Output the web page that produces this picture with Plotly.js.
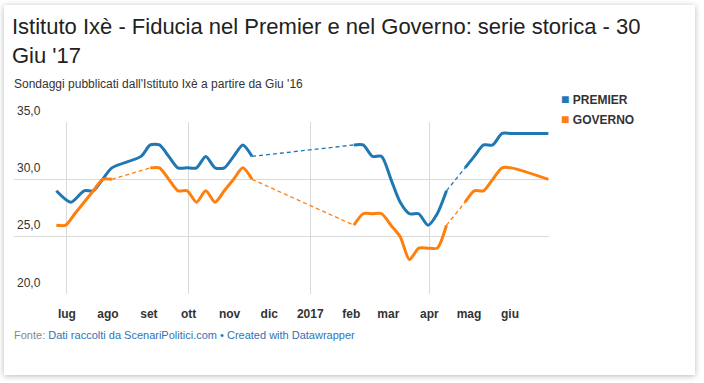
<!DOCTYPE html>
<html>
<head>
<meta charset="utf-8">
<script src="https://cdn.plot.ly/plotly-3.0.1.min.js"></script>
<style>
  html, body { margin: 0; padding: 0; background: #ffffff; }
  #card { position: absolute; left: 4px; top: 5px; width: 691px; height: 370px; background: #fff;
          box-shadow: 0 1px 6px rgba(0,0,0,0.28); }
  #chart { position: absolute; left: 0; top: 0; width: 704px; height: 383px; }
</style>
</head>
<body>
<div id="card"></div>
<div id="chart"></div>
<script>
// ---- data (null = no poll, bridged with a dashed line) ----
const premierDates = ['2016-06-23','2016-07-04','2016-07-14','2016-07-21','2016-07-28','2016-08-04','2016-08-26',
  '2016-09-02','2016-09-09','2016-09-16','2016-09-23','2016-09-30','2016-10-07','2016-10-14','2016-10-21','2016-10-28',
  '2016-11-04','2016-11-11','2016-11-18','2017-01-01','2017-02-03','2017-02-10','2017-02-17','2017-02-24','2017-03-03',
  '2017-03-10','2017-03-17','2017-03-24','2017-03-31','2017-04-07','2017-04-14','2017-04-21','2017-04-28','2017-05-05',
  '2017-05-12','2017-05-19','2017-05-26','2017-06-02','2017-06-30'];
const premierValues = [29,28,29,29,30,31,32,
  33,33,32,31,31,31,32,31,31,
  32,33,32,null,33,33,32,32,30,
  28,27,27,26,27,29,null,31,32,
  33,33,34,34,34];

const governoDates = ['2016-06-23','2016-06-30','2016-07-07','2016-07-14','2016-07-21','2016-07-28','2016-08-04','2016-08-18',
  '2016-09-02','2016-09-09','2016-09-16','2016-09-23','2016-09-30','2016-10-07','2016-10-14','2016-10-21','2016-10-28',
  '2016-11-04','2016-11-11','2016-11-18','2017-01-01','2017-02-03','2017-02-10','2017-02-17','2017-02-24','2017-03-03',
  '2017-03-10','2017-03-17','2017-03-24','2017-03-31','2017-04-07','2017-04-14','2017-04-21','2017-04-28','2017-05-05',
  '2017-05-12','2017-05-19','2017-05-26','2017-06-02','2017-06-30'];
const governoValues = [26,26,27,28,29,30,30,null,
  31,31,30,29,29,28,29,28,29,
  30,31,30,null,26,27,27,27,26,
  25,23,24,24,24,26,null,28,29,
  29,30,31,31,30];

const seriesNames = ['PREMIER','GOVERNO'];
const seriesColors = ['#1f77b4','#ff7f0e'];

const monthTicks = ['2016-07-01','2016-08-01','2016-09-01','2016-10-01','2016-11-01','2016-12-01','2017-01-01',
  '2017-02-01','2017-03-01','2017-04-01','2017-05-01','2017-06-01'];
const monthLabels = ['lug','ago','set','ott','nov','dic','2017','feb','mar','apr','mag','giu'];

const titleText = "Istituto Ixè - Fiducia nel Premier e nel Governo: serie storica - 30<br>Giu '17";
const subtitleText = "Sondaggi pubblicati dall'Istituto Ixè a partire da Giu '16";
const sourceLabel = 'Fonte:';
const sourceText = 'Dati raccolti da ScenariPolitici.com • Created with Datawrapper';

// ---- helpers ----
function bridges(xs, ys) {
  const bx = [], by = [];
  for (let i = 0; i < ys.length; i++) {
    if (ys[i] === null) {
      let j = i - 1; while (j >= 0 && ys[j] === null) j--;
      let k = i + 1; while (k < ys.length && ys[k] === null) k++;
      if (j >= 0 && k < ys.length) { bx.push(xs[j], xs[k], null); by.push(ys[j], ys[k], null); }
    }
  }
  return {x: bx, y: by};
}

const FONT = 'Liberation Sans, Arial, Helvetica, sans-serif';
const allSeries = [[premierDates, premierValues], [governoDates, governoValues]];
const traces = [];
allSeries.forEach((s, idx) => {
  const b = bridges(s[0], s[1]);
  traces.push({type: 'scatter', mode: 'lines', x: b.x, y: b.y, connectgaps: false, showlegend: false,
    hoverinfo: 'skip', line: {color: seriesColors[idx], width: 1.3, dash: '4px,3px'}});
});
allSeries.forEach((s, idx) => {
  traces.push({type: 'scatter', mode: 'lines', name: seriesNames[idx], x: s[0], y: s[1], connectgaps: false,
    showlegend: false, line: {color: seriesColors[idx], width: 3, shape: 'spline', smoothing: 0.7}});
});

const L = 14, R = 549, T = 122, B = 294;
const px2x = p => (p - L) / (R - L);
const px2y = p => (B - p) / (B - T);

const annotations = [
  {xref: 'paper', yref: 'paper', x: px2x(12), y: px2y(84), xanchor: 'left', yanchor: 'middle', showarrow: false,
   text: subtitleText, font: {family: FONT, size: 12, color: '#333'}},
  {xref: 'paper', yref: 'paper', x: px2x(12), y: px2y(335), xanchor: 'left', yanchor: 'middle', showarrow: false,
   text: sourceLabel + ' <span style="color:#2f73b6">' + sourceText + '</span>', font: {family: FONT, size: 11, color: '#888'}}
];
seriesNames.forEach((n, i) => {
  annotations.push({xref: 'paper', yref: 'paper', x: px2x(559), y: px2y(99 + 20 * i), xanchor: 'left', yanchor: 'middle',
    showarrow: false, text: '<span style="color:' + seriesColors[i] + ';font-size:14px">■</span> <b>' + n + '</b>',
    font: {family: FONT, size: 12, color: '#333'}});
});

const xrange = ['2016-05-22', '2017-06-30 12:00'];
const layout = {
  width: 704, height: 383,
  paper_bgcolor: 'rgba(0,0,0,0)', plot_bgcolor: 'rgba(0,0,0,0)',
  margin: {l: L, r: 704 - R, t: T, b: 383 - B, pad: 0},
  separators: ',.',
  font: {family: FONT, size: 12, color: '#333'},
  title: {text: titleText, xref: 'container', yref: 'container', x: 12 / 704, xanchor: 'left',
          y: 1 - 34 / 383, yanchor: 'top', font: {family: FONT, size: 22, color: '#222'}},
  showlegend: false,
  xaxis: {type: 'date', range: xrange, tickmode: 'array', tickvals: monthTicks, ticktext: monthLabels,
          showgrid: false, zeroline: false, showline: false, ticks: 'outside', ticklen: 9,
          tickcolor: 'rgba(0,0,0,0)', tickfont: {family: FONT, size: 12, color: '#333', weight: 'bold'}},
  xaxis2: {type: 'date', range: xrange, overlaying: 'x', anchor: 'y', side: 'bottom', tickmode: 'linear',
           tick0: '2016-07-01', dtick: 'M3', showgrid: true, gridcolor: '#d9d9d9', gridwidth: 1,
           showticklabels: false, ticks: '', zeroline: false, showline: false},
  yaxis: {range: [20, 35], tickmode: 'linear', tick0: 20, dtick: 5, tickformat: '.1f', showgrid: true,
          gridcolor: '#d9d9d9', gridwidth: 1, zeroline: false, showline: false, ticks: '',
          ticklabelposition: 'inside top', ticklabeloverflow: 'allow', ticklabelshift: -3,
          tickfont: {family: FONT, size: 12, color: '#333'}},
  annotations: annotations
};
traces.push({type: 'scatter', x: [], y: [], xaxis: 'x2', yaxis: 'y', showlegend: false, hoverinfo: 'skip'});
Plotly.newPlot('chart', traces, layout, {displayModeBar: false, staticPlot: true});
</script>
</body>
</html>
